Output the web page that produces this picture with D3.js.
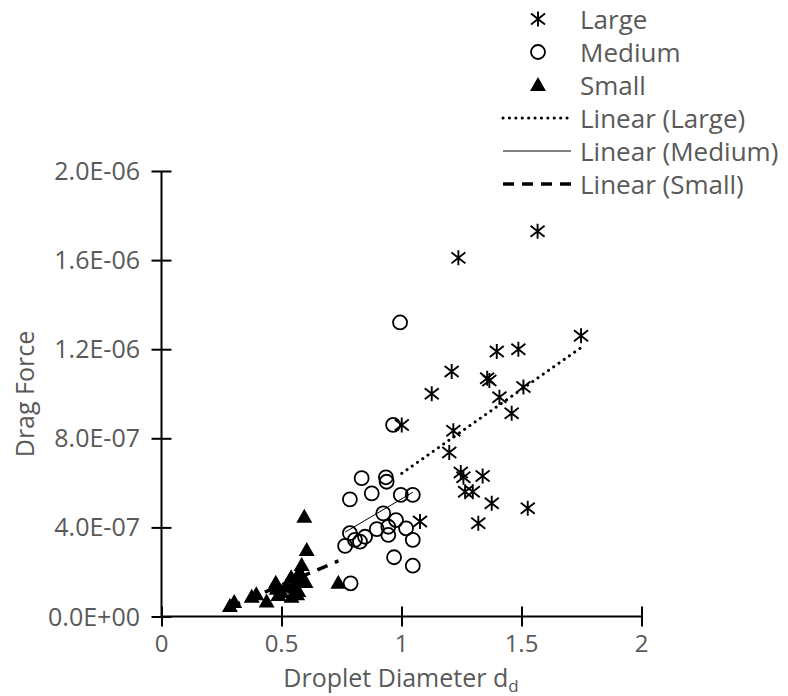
<!DOCTYPE html>
<html>
<head>
<meta charset="utf-8">
<script src="https://cdn.jsdelivr.net/npm/d3@7"></script>
<style>
  body { margin: 0; background: #fff; }
  svg { display: block; font-family: "Open Sans", sans-serif; }
</style>
</head>
<body>
<div id="chart"></div>
<script>
(function() {

  'use strict'

  // Droplet diameter (x) and drag force (y, in units of 1E-07 N).
  var largeX  = [1.567, 1.237, 1.748, 1.397, 1.487, 1.209, 1.357, 1.366, 1.126, 1.508, 1.408, 1.459,
                 1.216, 1.001, 1.199, 1.247, 1.258, 1.338, 1.265, 1.297, 1.376, 1.526, 1.320, 1.077];
  var largeY  = [17.3, 16.1, 12.6, 11.9, 12.0, 11.0, 10.7, 10.6, 10.0, 10.3, 9.84, 9.12,
                 8.34, 8.60, 7.36, 6.46, 6.25, 6.31, 5.60, 5.60, 5.08, 4.86, 4.19, 4.26];

  var mediumX = [0.965, 0.834, 0.935, 0.938, 0.876, 0.785, 0.997, 1.047, 0.924, 0.977, 0.945, 0.897,
                 0.848, 1.019, 0.785, 0.806, 0.827, 0.945, 0.765, 1.047, 0.969, 1.047, 0.788, 0.994];
  var mediumY = [8.60, 6.21, 6.25, 6.05, 5.53, 5.26, 5.46, 5.46, 4.63, 4.33, 4.03, 3.92,
                 3.58, 3.96, 3.74, 3.44, 3.36, 3.66, 3.17, 3.44, 2.66, 2.28, 1.49, 13.2];

  var smallX  = [0.285, 0.303, 0.376, 0.395, 0.438, 0.476, 0.487, 0.480, 0.500, 0.540, 0.542, 0.555,
                 0.560, 0.575, 0.584, 0.580, 0.590, 0.595, 0.605, 0.600, 0.570, 0.737, 0.520, 0.565];
  var smallY  = [0.47, 0.65, 0.89, 1.00, 0.67, 1.52, 0.97, 1.25, 1.10, 1.76, 0.89, 1.30,
                 1.60, 2.00, 2.31, 1.85, 1.70, 4.48, 2.99, 1.55, 1.15, 1.52, 1.35, 1.00];

  var xTicks = [0, 0.5, 1, 1.5, 2];
  var yTicks = [0, 4e-7, 8e-7, 1.2e-6, 1.6e-6, 2e-6];

  var seriesNames = ['Large', 'Medium', 'Small'];
  var legendLabels = ['Large', 'Medium', 'Small', 'Linear (Large)', 'Linear (Medium)', 'Linear (Small)'];

  var width = 788, height = 696;
  var textColor = '#595959';

  var svg = d3.select('#chart').append('svg')
              .attr('width', width)
              .attr('height', height);

  var x = d3.scaleLinear().domain([0, 2]).range([161.5, 641.5]);
  var y = d3.scaleLinear().domain([0, 2e-6]).range([616.5, 171]);

  function pairs(xs, ys) {
    return xs.map(function(v, i) { return { x: v, y: ys[i] * 1e-7 }; });
  }

  var data = {
    Large:  pairs(largeX, largeY),
    Medium: pairs(mediumX, mediumY),
    Small:  pairs(smallX, smallY)
  };

  // Excel style tick label, e.g. 4.0E-07.
  function sci(v) {
    if (v === 0) return '0.0E+00';
    var e = Math.floor(Math.log10(v) + 1e-9);
    var m = v / Math.pow(10, e);
    var s = e < 0 ? '-' : '+';
    var a = Math.abs(e);
    return m.toFixed(1) + 'E' + s + (a < 10 ? '0' : '') + a;
  }

  // ---- axes ----
  var xMinor = d3.range(0, 2.0001, 0.1);
  var yMinor = d3.range(0, 2.0001e-6, 0.8e-7);

  var gx = svg.append('g').attr('transform', 'translate(0,' + y(0) + ')');
  gx.call(d3.axisBottom(x).tickValues(xMinor).tickSize(8).tickFormat(''));
  gx.call(d3.axisBottom(x).tickValues(xTicks).tickSize(10).tickFormat(''))
    .selectAll('.tick line').attr('y1', -10);
  gx.selectAll('.domain').remove();
  gx.append('line').attr('x1', x(0)).attr('x2', x(2)).attr('stroke', '#000');
  gx.selectAll('line').attr('stroke', '#000').attr('stroke-width', 2);

  var gy = svg.append('g').attr('transform', 'translate(' + x(0) + ',0)');
  gy.call(d3.axisLeft(y).tickValues(yMinor).tickSize(8).tickFormat(''));
  gy.call(d3.axisLeft(y).tickValues(yTicks).tickSize(10).tickFormat(''))
    .selectAll('.tick line').attr('x1', 10);
  gy.selectAll('.domain').remove();
  gy.append('line').attr('y1', y(0)).attr('y2', y(2e-6)).attr('stroke', '#000');
  gy.selectAll('line').attr('stroke', '#000').attr('stroke-width', 2);

  // Tick labels.
  svg.append('g').selectAll('text').data(xTicks).enter().append('text')
     .attr('x', function(d) { return x(d); })
     .attr('y', 652)
     .attr('text-anchor', 'middle')
     .attr('fill', textColor)
     .style('font-size', '24px')
     .text(function(d) { return d; });

  svg.append('g').selectAll('text').data(yTicks).enter().append('text')
     .attr('x', 140)
     .attr('y', function(d) { return y(d) + 9; })
     .attr('text-anchor', 'end')
     .attr('fill', textColor)
     .style('font-size', '25px')
     .text(sci);

  // Axis titles.
  var xt = svg.append('text')
              .attr('x', 401)
              .attr('y', 687)
              .attr('text-anchor', 'middle')
              .attr('fill', textColor)
              .style('font-size', '25px');
  xt.append('tspan').text('Droplet Diameter d');
  xt.append('tspan').attr('dy', 5).style('font-size', '17px').text('d');

  svg.append('text')
     .attr('transform', 'translate(34,394) rotate(-90)')
     .attr('text-anchor', 'middle')
     .attr('fill', textColor)
     .style('font-size', '25px')
     .text('Drag Force');

  // ---- markers ----
  function drawMarker(g, name) {
    if (name === 'Large') {
      g.append('path')
       .attr('d', 'M0,-7.5L0,7.5M-7,-5.5L7,5.5M-7,5.5L7,-5.5')
       .attr('stroke', '#000').attr('stroke-width', 1.9).attr('fill', 'none');
    } else if (name === 'Medium') {
      g.append('circle').attr('r', 7)
       .attr('stroke', '#000').attr('stroke-width', 1.8).attr('fill', 'none');
    } else {
      g.append('path').attr('d', 'M0,-8L8,6L-8,6Z').attr('fill', '#000');
    }
  }

  var lineStyles = {
    Large:  { width: 3,   dash: '0.1 6.3', cap: 'round' },
    Medium: { width: 1,   dash: null,      cap: 'butt' },
    Small:  { width: 3.5, dash: '11 8',    cap: 'butt' }
  };

  seriesNames.forEach(function(name) {
    var pts = data[name];
    var g = svg.append('g');
    pts.forEach(function(p) {
      drawMarker(g.append('g').attr('transform', 'translate(' + x(p.x) + ',' + y(p.y) + ')'), name);
    });
  });

  // Least squares trend lines over each series' x range.
  seriesNames.forEach(function(name) {
    var pts = data[name];
    var mx = d3.mean(pts, function(p) { return p.x; });
    var my = d3.mean(pts, function(p) { return p.y; });
    var sxy = d3.sum(pts, function(p) { return (p.x - mx) * (p.y - my); });
    var sxx = d3.sum(pts, function(p) { return (p.x - mx) * (p.x - mx); });
    var b = sxy / sxx, a = my - b * mx;
    var ext = d3.extent(pts, function(p) { return p.x; });
    var st = lineStyles[name];
    svg.append('line')
       .attr('x1', x(ext[0])).attr('y1', y(a + b * ext[0]))
       .attr('x2', x(ext[1])).attr('y2', y(a + b * ext[1]))
       .attr('stroke', '#000')
       .attr('stroke-width', st.width)
       .attr('stroke-linecap', st.cap)
       .attr('stroke-dasharray', st.dash);
  });

  // ---- legend ----
  var legend = svg.append('g');
  legendLabels.forEach(function(label, i) {
    var cy = 19 + i * 33;
    var row = legend.append('g');
    if (i < 3) {
      drawMarker(row.append('g').attr('transform', 'translate(538,' + cy + ')'), seriesNames[i]);
    } else {
      var st = lineStyles[seriesNames[i - 3]];
      row.append('line')
         .attr('x1', 503).attr('x2', 571).attr('y1', cy).attr('y2', cy)
         .attr('stroke', '#000')
         .attr('stroke-width', st.width)
         .attr('stroke-linecap', st.cap)
         .attr('stroke-dasharray', st.dash);
    }
    row.append('text')
       .attr('x', 580)
       .attr('y', cy + 9.5)
       .attr('fill', textColor)
       .style('font-size', '26px')
       .text(label);
  });

})();
</script>
</body>
</html>
